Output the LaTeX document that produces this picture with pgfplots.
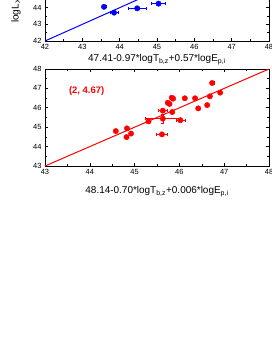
\documentclass[border=0pt]{standalone}
\usepackage{fontspec}
\setmainfont{Liberation Sans}
\usepackage{pgfplots}
\pgfplotsset{compat=1.18}
\begin{document}
\begin{tikzpicture}
\pgfplotsset{
  common/.style={
    scale only axis, width=224bp,
    axis line style={line width=0.9pt},
    tick style={black, line width=0.6pt},
    major tick length=3bp, minor tick length=1.8bp,
    minor tick num=1,
    tick align=inside,
    xtick pos=both, ytick pos=both,
    /pgf/number format/assume math mode=true,
    tick label style={font=\fontsize{7.5}{8}\selectfont},
    label style={font=\fontsize{10}{11}\selectfont},
    clip=false,
  },
  errstyle/.style={error bars/.cd, x dir=both, x explicit, y dir=both, y explicit,
    error mark options={rotate=90, mark size=1.6bp, line width=0.5pt},
    error bar style={line width=0.6pt}},
}
\useasboundingbox (0bp,0bp) rectangle (272bp,352bp);
% top panel (partly cut off)
\begin{axis}[common, at={(45bp,311bp)}, anchor=south west, height=100bp,
  xmin=42, xmax=48, ymin=42, ymax=48,
  xtick={42,...,48}, ytick={42,...,48},
  xlabel={47.41-0.97*logT\textsubscript{b,z}+0.57*logE\textsubscript{p,i}},
  every axis x label/.style={at={(axis description cs:0.5,0)}, anchor=base, yshift=-21bp},
]
\addplot[blue, line width=1pt, no marks] coordinates {(42,42) (48,48)};
\addplot[blue, only marks, mark=*, mark size=2.7bp, errstyle] table[x=x,y=y,x error=ex,y error=ey] {
x y ex ey
43.58 44.05 0.05 0
43.85 43.70 0.11 0
44.47 43.96 0.25 0
45.04 44.24 0.19 0
};
\end{axis}
% bottom panel
\begin{axis}[common, at={(45bp,186bp)}, anchor=south west, height=97bp,
  xmin=43, xmax=48, ymin=43, ymax=48,
  xtick={43,...,48}, ytick={43,...,48},
  xlabel={48.14-0.70*logT\textsubscript{b,z}+0.006*logE\textsubscript{p,i}},
  every axis x label/.style={at={(axis description cs:0.5,0)}, anchor=base, yshift=-28bp},
]
\addplot[red, line width=1pt, no marks] coordinates {(43,43) (48,48)};
\addplot[red, only marks, mark=*, mark size=2.7bp, errstyle] table[x=x,y=y,x error=ex,y error=ey] {
x y ex ey
44.58 44.80 0 0
44.83 44.94 0 0
44.82 44.49 0 0
44.92 44.67 0 0
45.31 45.30 0.05 0
45.63 45.44 0.40 0.25
46.02 45.36 0.10 0
45.63 45.85 0.10 0
45.84 45.78 0 0
45.61 44.63 0.12 0
45.74 46.26 0 0
45.78 46.20 0 0
45.83 46.52 0 0
45.86 46.47 0 0
46.12 46.49 0 0
46.35 46.49 0 0
46.42 45.97 0 0
46.62 46.14 0 0
46.68 46.59 0 0
46.73 47.28 0.05 0
46.91 46.78 0 0
};
\node[red, font=\bfseries\fontsize{9.5}{10}\selectfont] at (axis cs:43.93,46.88) {(2, 4.67)};
\end{axis}
\node[rotate=90, anchor=west, font=\fontsize{10}{11}\selectfont, inner sep=0pt] at (16bp,329bp) {logL\textsubscript{X}};
\end{tikzpicture}
\end{document}
